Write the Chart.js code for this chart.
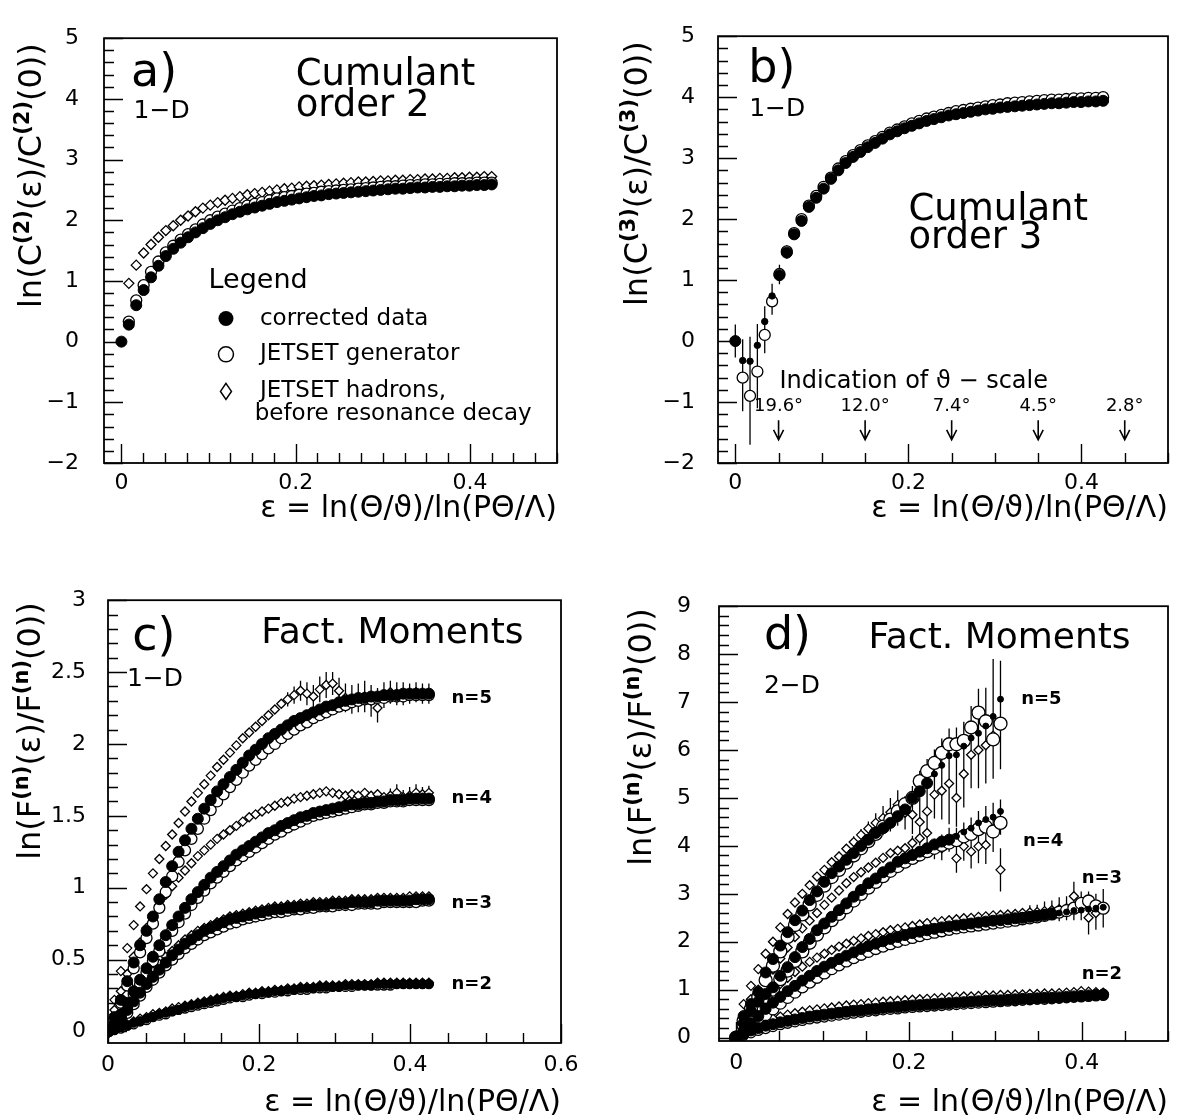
<!DOCTYPE html>
<html>
<head>
<meta charset="utf-8">
<script src="https://cdn.jsdelivr.net/npm/chart.js@4.4.0/dist/chart.umd.min.js"></script>
<style>
  body { margin: 0; background: #fff; overflow: hidden; }
  #wrap { position: relative; width: 1178px; height: 1118px; background: #fff; }
  canvas { position: absolute; }
</style>
</head>
<body>
<div id="wrap">
  <canvas id="chart_a" width="589" height="559" style="left:0;top:0"></canvas>
  <canvas id="chart_b" width="588" height="559" style="left:590px;top:0"></canvas>
  <canvas id="chart_c" width="589" height="553" style="left:0;top:565px"></canvas>
  <canvas id="chart_d" width="588" height="553" style="left:590px;top:565px"></canvas>
</div>
<script>
// ---------------- DATA ----------------
// epsilon bins (shared by all panels)
const eps = [0, 0.0085, 0.017, 0.0255, 0.034, 0.0425, 0.051, 0.0595, 0.068, 0.0765,
  0.085, 0.0935, 0.102, 0.1105, 0.119, 0.1275, 0.136, 0.1445, 0.153, 0.1615,
  0.17, 0.1785, 0.187, 0.1955, 0.204, 0.2125, 0.221, 0.2295, 0.238, 0.2465,
  0.255, 0.2635, 0.272, 0.2805, 0.289, 0.2975, 0.306, 0.3145, 0.323, 0.3315,
  0.34, 0.3485, 0.357, 0.3655, 0.374, 0.3825, 0.391, 0.3995, 0.408, 0.4165, 0.425];

// a) cumulant order 2, 1-D
const a_data = [0, 0.28, 0.6, 0.85, 1.06, 1.25, 1.41, 1.53, 1.63, 1.72,
  1.8, 1.87, 1.94, 2.0, 2.05, 2.1, 2.14, 2.18, 2.21, 2.24,
  2.27, 2.3, 2.32, 2.34, 2.36, 2.38, 2.4, 2.41, 2.43, 2.44,
  2.45, 2.46, 2.47, 2.48, 2.49, 2.5, 2.51, 2.52, 2.52, 2.53,
  2.54, 2.54, 2.55, 2.55, 2.56, 2.56, 2.57, 2.57, 2.58, 2.58, 2.59];
const a_jetset = [null, 0.33, 0.68, 0.93, 1.15, 1.32, 1.47, 1.58, 1.68, 1.77,
  1.85, 1.93, 2.0, 2.06, 2.11, 2.16, 2.2, 2.24, 2.27, 2.3,
  2.33, 2.36, 2.38, 2.4, 2.42, 2.44, 2.45, 2.47, 2.48, 2.49,
  2.5, 2.51, 2.52, 2.53, 2.54, 2.55, 2.56, 2.56, 2.57, 2.58,
  2.58, 2.59, 2.59, 2.6, 2.6, 2.61, 2.61, 2.61, 2.62, 2.62, 2.62];
const a_hadrons = [null, 0.96, 1.26, 1.46, 1.6, 1.72, 1.83, 1.91, 2.0, 2.07,
  2.14, 2.2, 2.25, 2.29, 2.33, 2.36, 2.39, 2.42, 2.44, 2.46,
  2.48, 2.5, 2.52, 2.53, 2.55, 2.56, 2.57, 2.58, 2.59, 2.6,
  2.61, 2.62, 2.63, 2.63, 2.64, 2.65, 2.65, 2.66, 2.66, 2.67,
  2.67, 2.68, 2.68, 2.69, 2.69, 2.7, 2.7, 2.71, 2.71, 2.72, 2.72];

// b) cumulant order 3, 1-D
const b_data = [0, -0.32, -0.33, -0.07, 0.32, 0.74, 1.08, 1.45, 1.75, 1.97,
  2.2, 2.35, 2.5, 2.66, 2.8, 2.92, 3.02, 3.1, 3.18, 3.25,
  3.32, 3.39, 3.44, 3.49, 3.53, 3.57, 3.61, 3.64, 3.67, 3.7,
  3.72, 3.74, 3.76, 3.78, 3.8, 3.81, 3.83, 3.84, 3.85, 3.86,
  3.87, 3.88, 3.89, 3.9, 3.9, 3.91, 3.92, 3.92, 3.93, 3.93, 3.94];
const b_jetset = [null, -0.6, -0.9, -0.5, 0.1, 0.65, 1.1, 1.47, 1.77, 2.0,
  2.22, 2.38, 2.53, 2.68, 2.83, 2.95, 3.05, 3.13, 3.21, 3.28,
  3.35, 3.42, 3.47, 3.52, 3.57, 3.61, 3.65, 3.68, 3.71, 3.74,
  3.77, 3.79, 3.81, 3.83, 3.85, 3.87, 3.88, 3.9, 3.91, 3.92,
  3.93, 3.94, 3.95, 3.96, 3.96, 3.97, 3.98, 3.98, 3.99, 3.99, 4.0];
const b_dataErr = [0.27, 0.35, 0.4, 0.35, 0.25, 0.2, 0.15, 0.1, 0.06];
const b_jetsetErr = [0, 0.55, 0.8, 0.6, 0.3, 0.22, 0.15, 0.1, 0.06];
const thetaEps = [0.05, 0.15, 0.25, 0.35, 0.45];
const thetaLabels = ['19.6\u00B0', '12.0\u00B0', '7.4\u00B0', '4.5\u00B0', '2.8\u00B0'];

// c) factorial moments, 1-D  (data / jetset / hadrons for n = 5..2)
const c_data5 = [0, 0.1, 0.22, 0.35, 0.48, 0.6, 0.7, 0.8, 0.92, 1.04,
  1.15, 1.25, 1.33, 1.41, 1.48, 1.55, 1.61, 1.67, 1.72, 1.77,
  1.82, 1.87, 1.92, 1.96, 2.0, 2.04, 2.07, 2.1, 2.13, 2.16,
  2.18, 2.2, 2.22, 2.24, 2.26, 2.27, 2.29, 2.3, 2.31, 2.32,
  2.32, 2.33, 2.33, 2.34, 2.34, 2.34, 2.35, 2.35, 2.35, 2.35, 2.35];
const c_jetset5 = [0, 0.08, 0.2, 0.32, 0.44, 0.55, 0.65, 0.75, 0.86, 0.97,
  1.08, 1.18, 1.26, 1.34, 1.41, 1.48, 1.54, 1.6, 1.65, 1.7,
  1.75, 1.8, 1.85, 1.89, 1.93, 1.97, 2.0, 2.04, 2.07, 2.1,
  2.13, 2.15, 2.18, 2.2, 2.22, 2.24, 2.26, 2.27, 2.29, 2.3,
  2.31, 2.31, 2.32, 2.32, 2.33, 2.33, 2.33, 2.34, 2.34, 2.34, 2.34];
const c_hadrons5 = [0, 0.22, 0.42, 0.58, 0.74, 0.87, 0.99, 1.1, 1.2, 1.29,
  1.37, 1.45, 1.53, 1.6, 1.66, 1.72, 1.78, 1.84, 1.89, 1.94,
  1.99, 2.04, 2.08, 2.12, 2.16, 2.2, 2.24, 2.28, 2.31, 2.34,
  2.37, 2.35, 2.33, 2.38, 2.41, 2.42, 2.37, 2.32, 2.31, 2.32,
  2.33, 2.3, 2.25, 2.34, 2.36, 2.35, 2.35, 2.35, 2.36, 2.35, 2.35];
const c_data4 = [0, 0.05, 0.12, 0.2, 0.28, 0.36, 0.44, 0.52, 0.6, 0.67,
  0.74, 0.8, 0.86, 0.92, 0.97, 1.02, 1.07, 1.11, 1.15, 1.19,
  1.23, 1.26, 1.29, 1.32, 1.35, 1.38, 1.4, 1.43, 1.45, 1.47,
  1.49, 1.5, 1.52, 1.53, 1.54, 1.55, 1.56, 1.57, 1.58, 1.58,
  1.59, 1.59, 1.6, 1.6, 1.61, 1.61, 1.61, 1.62, 1.62, 1.62, 1.62];
const c_jetset4 = [0, 0.04, 0.1, 0.18, 0.26, 0.33, 0.41, 0.49, 0.56, 0.63,
  0.7, 0.76, 0.82, 0.88, 0.93, 0.98, 1.03, 1.07, 1.11, 1.15,
  1.19, 1.22, 1.25, 1.28, 1.31, 1.34, 1.37, 1.39, 1.42, 1.44,
  1.46, 1.48, 1.5, 1.51, 1.52, 1.53, 1.54, 1.55, 1.56, 1.57,
  1.58, 1.58, 1.59, 1.59, 1.6, 1.6, 1.6, 1.61, 1.61, 1.61, 1.61];
const c_hadrons4 = [0, 0.15, 0.28, 0.4, 0.52, 0.62, 0.72, 0.8, 0.88, 0.95,
  1.01, 1.07, 1.12, 1.17, 1.22, 1.26, 1.3, 1.34, 1.37, 1.4,
  1.43, 1.46, 1.49, 1.51, 1.53, 1.55, 1.57, 1.59, 1.6, 1.62,
  1.63, 1.64, 1.65, 1.66, 1.67, 1.66, 1.65, 1.64, 1.65, 1.64,
  1.66, 1.64, 1.65, 1.63, 1.64, 1.66, 1.63, 1.64, 1.66, 1.65, 1.66];
const c_data3 = [0, 0.04, 0.09, 0.15, 0.21, 0.27, 0.33, 0.38, 0.43, 0.48,
  0.53, 0.57, 0.61, 0.64, 0.67, 0.7, 0.72, 0.74, 0.76, 0.78,
  0.79, 0.8, 0.81, 0.82, 0.83, 0.84, 0.85, 0.85, 0.86, 0.86,
  0.87, 0.87, 0.88, 0.88, 0.88, 0.89, 0.89, 0.89, 0.9, 0.9,
  0.9, 0.9, 0.91, 0.91, 0.91, 0.91, 0.91, 0.91, 0.92, 0.92, 0.92];
const c_jetset3 = [0, 0.03, 0.08, 0.13, 0.19, 0.25, 0.31, 0.36, 0.41, 0.46,
  0.5, 0.54, 0.58, 0.61, 0.64, 0.67, 0.69, 0.71, 0.73, 0.75,
  0.76, 0.78, 0.79, 0.8, 0.81, 0.82, 0.83, 0.83, 0.84, 0.85,
  0.85, 0.86, 0.86, 0.87, 0.87, 0.87, 0.88, 0.88, 0.88, 0.89,
  0.89, 0.89, 0.89, 0.9, 0.9, 0.9, 0.9, 0.9, 0.9, 0.91, 0.91];
const c_hadrons3 = [0, 0.06, 0.12, 0.18, 0.25, 0.31, 0.37, 0.42, 0.47, 0.52,
  0.56, 0.6, 0.64, 0.67, 0.7, 0.72, 0.74, 0.76, 0.78, 0.8,
  0.81, 0.82, 0.83, 0.84, 0.85, 0.86, 0.87, 0.87, 0.88, 0.88,
  0.89, 0.89, 0.9, 0.9, 0.9, 0.91, 0.91, 0.91, 0.92, 0.92,
  0.92, 0.92, 0.93, 0.93, 0.93, 0.93, 0.93, 0.94, 0.94, 0.94, 0.94];
const c_data2 = [0, 0.01, 0.03, 0.04, 0.06, 0.07, 0.09, 0.1, 0.12, 0.13,
  0.14, 0.15, 0.17, 0.18, 0.19, 0.2, 0.21, 0.22, 0.23, 0.24,
  0.24, 0.25, 0.26, 0.26, 0.27, 0.27, 0.28, 0.28, 0.29, 0.29,
  0.3, 0.3, 0.3, 0.31, 0.31, 0.31, 0.31, 0.32, 0.32, 0.32,
  0.32, 0.32, 0.33, 0.33, 0.33, 0.33, 0.33, 0.33, 0.33, 0.33, 0.33];
const c_jetset2 = [0, 0.01, 0.02, 0.04, 0.05, 0.07, 0.08, 0.1, 0.11, 0.12,
  0.14, 0.15, 0.16, 0.17, 0.18, 0.19, 0.2, 0.21, 0.22, 0.23,
  0.24, 0.24, 0.25, 0.26, 0.26, 0.27, 0.27, 0.28, 0.28, 0.29,
  0.29, 0.29, 0.3, 0.3, 0.3, 0.31, 0.31, 0.31, 0.31, 0.32,
  0.32, 0.32, 0.32, 0.32, 0.32, 0.33, 0.33, 0.33, 0.33, 0.33, 0.33];
const c_hadrons2 = [0, 0.02, 0.04, 0.05, 0.07, 0.09, 0.1, 0.12, 0.13, 0.14,
  0.16, 0.17, 0.18, 0.19, 0.2, 0.21, 0.22, 0.23, 0.24, 0.25,
  0.25, 0.26, 0.27, 0.27, 0.28, 0.28, 0.29, 0.29, 0.3, 0.3,
  0.31, 0.31, 0.31, 0.32, 0.32, 0.32, 0.32, 0.33, 0.33, 0.33,
  0.33, 0.33, 0.34, 0.34, 0.34, 0.34, 0.34, 0.34, 0.34, 0.34, 0.34];
const c_hadrons5Err = [0, 0, 0, 0, 0, 0, 0, 0, 0, 0, 0, 0, 0, 0, 0, 0, 0, 0, 0, 0,
  0, 0, 0, 0, 0, 0, 0, 0, 0.05, 0.06, 0.07, 0.08, 0.08, 0.09, 0.09, 0.08, 0.09, 0.1, 0.1, 0.1,
  0.11, 0.11, 0.1, 0.09, 0.08, 0.08, 0.08, 0.07, 0.07, 0.07, 0.07];
const c_data5Err = [0, 0, 0, 0, 0, 0, 0, 0, 0, 0, 0, 0, 0, 0, 0, 0, 0, 0, 0, 0,
  0, 0, 0, 0, 0, 0, 0, 0, 0, 0, 0, 0, 0, 0, 0, 0, 0, 0, 0.04, 0.05,
  0.05, 0.05, 0.06, 0.06, 0.06, 0.06, 0.05, 0.05, 0.05, 0.05, 0.05];
const c_hadrons4Err = [0, 0, 0, 0, 0, 0, 0, 0, 0, 0, 0, 0, 0, 0, 0, 0, 0, 0, 0, 0,
  0, 0, 0, 0, 0, 0, 0, 0, 0, 0, 0, 0, 0, 0, 0, 0, 0, 0, 0, 0,
  0, 0, 0, 0, 0.05, 0.06, 0.05, 0.06, 0.06, 0.05, 0.05];

// d) factorial moments, 2-D
const d_data5 = [0, 0.45, 0.7, 0.95, 1.36, 1.64, 1.92, 2.2, 2.45, 2.65,
  2.87, 3.05, 3.25, 3.43, 3.57, 3.71, 3.85, 4.0, 4.13, 4.27,
  4.37, 4.48, 4.62, 4.76, 5.0, 5.14, 5.31, 5.5, 5.68, 5.88,
  5.9, 6.08, 6.25, 6.35, 6.5, 6.7, 7.06];
const d_jetset5 = [0, 0.35, 0.6, 0.85, 1.2, 1.5, 1.8, 2.1, 2.35, 2.57,
  2.78, 2.98, 3.17, 3.35, 3.5, 3.65, 3.8, 3.95, 4.1, 4.25,
  4.4, 4.55, 4.72, 4.87, 5.0, 5.35, 5.56, 5.73, 5.94, 6.12,
  6.12, 6.19, 6.47, 6.78, 6.6, 6.22, 6.55];
const d_hadrons5 = [0, 0.7, 1.08, 1.43, 1.75, 2.0, 2.3, 2.58, 2.82, 3.0,
  3.18, 3.36, 3.5, 3.66, 3.78, 3.94, 4.08, 4.23, 4.36, 4.48,
  4.58, 4.7, 4.86, 4.69, 4.65, 4.5, 4.72, 5.07, 5.15, 5.3,
  5.0, 5.5, 5.9, 6.0, 6.1, 6.3, 6.5];
const d_data5Err = [0, 0, 0, 0, 0, 0, 0, 0, 0, 0, 0, 0, 0, 0,
  0.08, 0.1, 0.1, 0.12, 0.12, 0.15, 0.15, 0.18, 0.2, 0.2, 0.25, 0.25, 0.3, 0.3,
  0.35, 0.4, 0.45, 0.5, 0.6, 0.75, 0.8, 1.2, 0.8];
const d_jetset5Err = [0, 0, 0, 0, 0, 0, 0, 0, 0, 0, 0, 0, 0, 0,
  0.05, 0.06, 0.07, 0.08, 0.09, 0.1, 0.12, 0.14, 0.15, 0.17, 0.2, 0.22, 0.25, 0.28,
  0.3, 0.33, 0.35, 0.4, 0.45, 0.5, 0.55, 0.6, 0.6];
const d_hadrons5Err = [0, 0, 0, 0, 0, 0, 0, 0, 0, 0, 0, 0, 0, 0,
  0.1, 0.1, 0.12, 0.12, 0.15, 0.2, 0.25, 0.3, 0.3, 0.35, 0.4, 0.4, 0.5, 0.5,
  0.6, 0.85, 0.6, 0.7, 0.7, 0.8, 0.8, 0.9, 0.9];
const d_data4 = [0, 0.3, 0.55, 0.75, 0.91, 1.05, 1.29, 1.47, 1.68, 1.89,
  2.06, 2.24, 2.38, 2.52, 2.66, 2.8, 2.94, 3.08, 3.22, 3.32,
  3.45, 3.55, 3.67, 3.74, 3.81, 3.88, 3.95, 4.03, 4.09, 4.13,
  4.2, 4.29, 4.37, 4.48, 4.55, 4.6, 4.72];
const d_jetset4 = [0, 0.25, 0.48, 0.68, 0.85, 1.0, 1.22, 1.4, 1.6, 1.8,
  1.98, 2.15, 2.3, 2.45, 2.58, 2.72, 2.86, 3.0, 3.13, 3.25,
  3.37, 3.48, 3.58, 3.67, 3.75, 3.82, 3.89, 3.96, 4.02, 4.07,
  4.12, 4.2, 4.25, 4.35, 4.4, 4.3, 4.48];
const d_hadrons4 = [0, 0.45, 0.8, 1.0, 1.22, 1.42, 1.65, 1.88, 2.1, 2.28,
  2.44, 2.6, 2.77, 2.92, 3.07, 3.22, 3.35, 3.45, 3.55, 3.65,
  3.75, 3.85, 3.9, 3.95, 4.06, 4.16, 4.27, 3.92, 3.95, 4.13,
  3.74, 3.99, 3.88, 3.99, 4.02, 4.27, 3.5];
const d_data4Err = [0, 0, 0, 0, 0, 0, 0, 0, 0, 0, 0, 0, 0, 0, 0, 0, 0, 0, 0, 0, 0, 0, 0, 0,
  0.1, 0.1, 0.12, 0.12, 0.15, 0.15, 0.18, 0.2, 0.22, 0.25, 0.28, 0.3, 0.25];
const d_jetset4Err = [0, 0, 0, 0, 0, 0, 0, 0, 0, 0, 0, 0, 0, 0, 0, 0, 0, 0, 0, 0, 0, 0, 0, 0,
  0.08, 0.08, 0.1, 0.1, 0.12, 0.12, 0.15, 0.15, 0.18, 0.2, 0.22, 0.25, 0.25];
const d_hadrons4Err = [0, 0, 0, 0, 0, 0, 0, 0, 0, 0, 0, 0, 0, 0, 0, 0, 0, 0, 0, 0, 0, 0, 0, 0,
  0.15, 0.15, 0.2, 0.2, 0.25, 0.25, 0.3, 0.3, 0.35, 0.35, 0.4, 0.4, 0.45];
const d_data3 = [0, 0.15, 0.3, 0.45, 0.6, 0.73, 0.85, 0.97, 1.08, 1.19,
  1.29, 1.39, 1.48, 1.56, 1.64, 1.71, 1.78, 1.85, 1.91, 1.96,
  2.01, 2.06, 2.1, 2.14, 2.18, 2.21, 2.24, 2.27, 2.3, 2.32,
  2.34, 2.36, 2.38, 2.4, 2.42, 2.44, 2.45, 2.47, 2.49, 2.5,
  2.52, 2.54, 2.56, 2.58, 2.6, 2.62, 2.65, 2.66, 2.68, 2.7, 2.72];
const d_jetset3 = [0, 0.1, 0.22, 0.35, 0.48, 0.6, 0.72, 0.84, 0.95, 1.06,
  1.16, 1.26, 1.35, 1.44, 1.52, 1.6, 1.67, 1.74, 1.8, 1.86,
  1.91, 1.96, 2.01, 2.05, 2.09, 2.13, 2.17, 2.2, 2.23, 2.26,
  2.29, 2.31, 2.33, 2.35, 2.37, 2.39, 2.41, 2.43, 2.45, 2.48,
  2.5, 2.52, 2.55, 2.58, 2.62, 2.65, 2.7, 2.8, 2.85, 2.75, 2.7];
const d_hadrons3 = [0, 0.25, 0.45, 0.65, 0.82, 0.98, 1.12, 1.25, 1.37, 1.48,
  1.58, 1.67, 1.75, 1.83, 1.9, 1.96, 2.02, 2.07, 2.12, 2.16,
  2.2, 2.24, 2.27, 2.3, 2.33, 2.36, 2.39, 2.41, 2.43, 2.45,
  2.47, 2.49, 2.5, 2.52, 2.53, 2.55, 2.56, 2.57, 2.58, 2.6,
  2.61, 2.62, 2.64, 2.66, 2.68, 2.7, 2.95, 2.75, 2.5, 2.6, 2.7];
const d_data3Err = [0, 0, 0, 0, 0, 0, 0, 0, 0, 0, 0, 0, 0, 0, 0, 0, 0, 0, 0, 0,
  0, 0, 0, 0, 0, 0, 0, 0, 0, 0, 0, 0, 0, 0, 0, 0, 0, 0, 0, 0,
  0.1, 0.1, 0.12, 0.12, 0.15, 0.15, 0.2, 0.2, 0.25, 0.3, 0.35];
const d_jetset3Err = [0, 0, 0, 0, 0, 0, 0, 0, 0, 0, 0, 0, 0, 0, 0, 0, 0, 0, 0, 0,
  0, 0, 0, 0, 0, 0, 0, 0, 0, 0, 0, 0, 0, 0, 0, 0, 0, 0, 0, 0,
  0.08, 0.08, 0.1, 0.1, 0.12, 0.12, 0.15, 0.2, 0.2, 0.25, 0.25];
const d_hadrons3Err = [0, 0, 0, 0, 0, 0, 0, 0, 0, 0, 0, 0, 0, 0, 0, 0, 0, 0, 0, 0,
  0, 0, 0, 0, 0, 0, 0, 0, 0, 0, 0, 0, 0, 0, 0, 0, 0, 0, 0, 0,
  0.15, 0.15, 0.2, 0.2, 0.25, 0.25, 0.3, 0.3, 0.35, 0.35, 0.4];
const d_data2 = [0, 0.08, 0.15, 0.2, 0.25, 0.28, 0.32, 0.35, 0.38, 0.41,
  0.44, 0.46, 0.48, 0.5, 0.52, 0.54, 0.56, 0.57, 0.59, 0.6,
  0.62, 0.63, 0.64, 0.66, 0.67, 0.68, 0.69, 0.7, 0.71, 0.72,
  0.73, 0.74, 0.75, 0.76, 0.77, 0.78, 0.78, 0.79, 0.8, 0.81,
  0.81, 0.82, 0.83, 0.83, 0.84, 0.85, 0.86, 0.87, 0.88, 0.89, 0.9];
const d_jetset2 = [0, 0.05, 0.1, 0.15, 0.19, 0.23, 0.27, 0.3, 0.33, 0.36,
  0.39, 0.41, 0.43, 0.45, 0.47, 0.49, 0.51, 0.53, 0.55, 0.56,
  0.58, 0.59, 0.6, 0.62, 0.63, 0.64, 0.65, 0.66, 0.67, 0.68,
  0.69, 0.7, 0.71, 0.72, 0.73, 0.74, 0.75, 0.76, 0.77, 0.78,
  0.79, 0.8, 0.8, 0.81, 0.82, 0.83, 0.84, 0.85, 0.86, 0.87, 0.88];
const d_hadrons2 = [0, 0.15, 0.24, 0.3, 0.36, 0.4, 0.44, 0.48, 0.51, 0.54,
  0.57, 0.59, 0.61, 0.63, 0.65, 0.67, 0.69, 0.7, 0.72, 0.73,
  0.75, 0.76, 0.77, 0.78, 0.79, 0.8, 0.81, 0.82, 0.83, 0.84,
  0.85, 0.86, 0.86, 0.87, 0.88, 0.88, 0.89, 0.89, 0.9, 0.9,
  0.91, 0.91, 0.92, 0.92, 0.93, 0.94, 0.95, 0.97, 0.96, 0.95, 0.94];

// labels
const legendLabels = ['corrected data', 'JETSET generator', 'JETSET hadrons,', 'before resonance decay'];
const orderLabels = ['n=5', 'n=4', 'n=3', 'n=2'];
const xTitle = '\u03B5 = ln(\u0398/\u03D1)/ln(P\u0398/\u039B)';
// y titles: [text, isSuperscript]
const yTitleC2 = [['ln(C', 0], ['(2)', 1], ['(\u03B5)/C', 0], ['(2)', 1], ['(0))', 0]];
const yTitleC3 = [['ln(C', 0], ['(3)', 1], ['(\u03B5)/C', 0], ['(3)', 1], ['(0))', 0]];
const yTitleF = [['ln(F', 0], ['(n)', 1], ['(\u03B5)/F', 0], ['(n)', 1], ['(0))', 0]];

// ---------------- HELPERS ----------------
const FONT = "'DejaVu Sans', 'Liberation Sans', sans-serif";

function pts(values, errs) {
  const out = [];
  values.forEach((v, i) => {
    if (v === null || v === undefined) return;
    out.push({ x: eps[i], y: v, e: errs ? (errs[i] || 0) : 0 });
  });
  return out;
}

function filledSet(values, errs, radius, smallFrom) {
  const r = radius || 5.5;
  return {
    data: pts(values, errs),
    pointStyle: 'circle',
    pointRadius: smallFrom ? (c => (c.dataIndex >= smallFrom ? 3 : r)) : r,
    backgroundColor: '#000', borderColor: '#000', borderWidth: 1
  };
}
function openSet(values, errs, radius) {
  return {
    data: pts(values, errs),
    pointStyle: 'circle', pointRadius: radius || 5.5,
    backgroundColor: '#fff', borderColor: '#000', borderWidth: 1.3
  };
}
function diamondSet(values, errs, radius) {
  return {
    data: pts(values, errs),
    pointStyle: 'rectRot', pointRadius: radius || 5,
    backgroundColor: '#fff', borderColor: '#000', borderWidth: 1.3
  };
}

function fmt(v) {
  return String(Math.round(v * 10) / 10).replace('-', '\u2212');
}

function tickLoop(min, max, step, fn) {
  const n0 = Math.ceil(min / step - 1e-6), n1 = Math.floor(max / step + 1e-6);
  for (let k = n0; k <= n1; k++) fn(k * step);
}
function isMajor(v, major) {
  return Math.abs(v / major - Math.round(v / major)) < 1e-6;
}

// box + PAW-like inner tick marks
const framePlugin = {
  id: 'frame',
  afterDatasetsDraw(chart, args, o) {
    const { ctx, chartArea: a, scales: { x, y } } = chart;
    ctx.save();
    ctx.strokeStyle = '#000';
    ctx.lineWidth = 1.4;
    ctx.beginPath();
    tickLoop(x.min, x.max, o.xMinor, v => {
      const px = Math.round(x.getPixelForValue(v)) + 0.5;
      const len = isMajor(v, o.xMajor) ? 19 : 10;
      ctx.moveTo(px, a.bottom);
      ctx.lineTo(px, a.bottom - len);
    });
    tickLoop(y.min, y.max, o.yMinor, v => {
      const py = Math.round(y.getPixelForValue(v)) + 0.5;
      const len = isMajor(v, o.yMajor) ? 19 : 10;
      ctx.moveTo(a.left, py);
      ctx.lineTo(a.left + len, py);
    });
    ctx.stroke();
    ctx.lineWidth = 1.8;
    ctx.strokeRect(a.left, a.top, a.right - a.left, a.bottom - a.top);
    ctx.restore();
  }
};

// vertical error bars from the e field of each point
const errorBarPlugin = {
  id: 'errorBars',
  beforeDatasetsDraw(chart) {
    const { ctx, scales: { x, y } } = chart;
    ctx.save();
    ctx.strokeStyle = '#000';
    ctx.lineWidth = 1.3;
    ctx.beginPath();
    chart.data.datasets.forEach(ds => {
      ds.data.forEach(p => {
        if (!p.e) return;
        const px = x.getPixelForValue(p.x);
        ctx.moveTo(px, y.getPixelForValue(p.y - p.e));
        ctx.lineTo(px, y.getPixelForValue(p.y + p.e));
      });
    });
    ctx.stroke();
    ctx.restore();
  }
};

// free text inside the frames
const textPlugin = {
  id: 'panelText',
  afterDraw(chart, args, o) {
    const { ctx, scales: { x, y } } = chart;
    ctx.save();
    ctx.fillStyle = '#000';
    ctx.textBaseline = 'middle';
    (o.items || []).forEach(t => {
      ctx.font = (t.weight || 'normal') + ' ' + t.size + 'px ' + FONT;
      ctx.textAlign = t.align || 'left';
      ctx.fillText(t.text, x.getPixelForValue(t.x), y.getPixelForValue(t.y));
    });
    ctx.restore();
  }
};

// rotated y title with real superscripts
const yTitlePlugin = {
  id: 'yTitle',
  afterDraw(chart, args, o) {
    if (!o.parts) return;
    const { ctx, chartArea: a } = chart;
    const mainFont = o.size + 'px ' + FONT;
    const supFont = 'bold ' + o.supSize + 'px ' + FONT;
    ctx.save();
    ctx.fillStyle = '#000';
    ctx.textAlign = 'left';
    ctx.textBaseline = 'alphabetic';
    let w = 0;
    o.parts.forEach(p => { ctx.font = p[1] ? supFont : mainFont; w += ctx.measureText(p[0]).width; });
    ctx.translate(o.cx, a.top + o.topGap);
    ctx.rotate(-Math.PI / 2);
    let tx = -w;
    const base = o.size * 0.36;
    o.parts.forEach(p => {
      ctx.font = p[1] ? supFont : mainFont;
      ctx.fillText(p[0], tx, p[1] ? base - o.size * 0.36 : base);
      tx += ctx.measureText(p[0]).width;
    });
    ctx.restore();
  }
};

// legend of panel a
const legendPlugin = {
  id: 'paLegend',
  afterDraw(chart, args, o) {
    if (!o.rows) return;
    const { ctx, scales: { x, y } } = chart;
    ctx.save();
    ctx.fillStyle = '#000';
    ctx.strokeStyle = '#000';
    ctx.textBaseline = 'middle';
    ctx.font = o.size + 'px ' + FONT;
    const mx = x.getPixelForValue(o.markerX);
    const tx = x.getPixelForValue(o.textX);
    o.rows.forEach((ry, i) => {
      const my = y.getPixelForValue(ry);
      ctx.lineWidth = 1.5;
      ctx.beginPath();
      if (i === 2) {
        ctx.moveTo(mx, my - 8); ctx.lineTo(mx + 5.5, my);
        ctx.lineTo(mx, my + 8); ctx.lineTo(mx - 5.5, my); ctx.closePath();
        ctx.stroke();
      } else {
        ctx.arc(mx, my, 7.5, 0, Math.PI * 2);
        if (i === 0) ctx.fill(); else ctx.stroke();
      }
      ctx.fillText(legendLabels[i], tx, my);
    });
    ctx.fillText(legendLabels[3], x.getPixelForValue(o.extraX), y.getPixelForValue(o.extraY));
    ctx.restore();
  }
};

// theta-scale arrows of panel b
const arrowPlugin = {
  id: 'thetaArrows',
  afterDraw(chart, args, o) {
    if (!o.show) return;
    const { ctx, scales: { x, y } } = chart;
    ctx.save();
    ctx.fillStyle = '#000';
    ctx.strokeStyle = '#000';
    ctx.lineWidth = 1.6;
    ctx.textAlign = 'center';
    ctx.textBaseline = 'middle';
    ctx.font = '18px ' + FONT;
    thetaEps.forEach((v, i) => {
      const px = x.getPixelForValue(v);
      const y0 = y.getPixelForValue(o.top), y1 = y.getPixelForValue(o.bottom);
      ctx.beginPath();
      ctx.moveTo(px, y0); ctx.lineTo(px, y1);
      ctx.moveTo(px - 5, y1 - 10); ctx.lineTo(px, y1); ctx.lineTo(px + 5, y1 - 10);
      ctx.stroke();
      ctx.fillText(thetaLabels[i], px, y.getPixelForValue(o.labelY));
    });
    ctx.restore();
  }
};

function makeScales(p) {
  return {
    x: {
      type: 'linear', min: p.xMin, max: p.xMax,
      afterBuildTicks: s => { s.ticks = p.xTicks.map(v => ({ value: v })); },
      afterFit: s => { s.height = p.xHeight; },
      grid: { display: false, drawTicks: false },
      border: { display: false },
      ticks: { padding: p.xTickPad, color: '#000', autoSkip: false, maxRotation: 0,
        font: { family: FONT, size: 22 }, callback: fmt },
      title: { display: true, text: xTitle, align: 'end', color: '#000',
        font: { family: FONT, size: 30, lineHeight: 1 }, padding: { top: 0, bottom: p.xTitlePad } }
    },
    y: {
      type: 'linear', min: p.yMin, max: p.yMax,
      afterBuildTicks: s => { s.ticks = p.yTicks.map(v => ({ value: v })); },
      afterFit: s => { s.width = p.yWidth; },
      grid: { display: false, drawTicks: false },
      border: { display: false },
      ticks: { padding: p.yTickPad, color: '#000', autoSkip: false,
        font: { family: FONT, size: 22 }, callback: fmt },
      title: { display: false }
    }
  };
}

function makeChart(id, datasets, layoutPad, scaleOpts, pluginOpts) {
  return new Chart(document.getElementById(id), {
    type: 'scatter',
    data: { datasets: datasets },
    options: {
      responsive: false,
      animation: false,
      events: [],
      layout: { padding: layoutPad },
      plugins: Object.assign({ legend: { display: false }, tooltip: { enabled: false } }, pluginOpts),
      scales: makeScales(scaleOpts)
    },
    plugins: [errorBarPlugin, framePlugin, textPlugin, yTitlePlugin, legendPlugin, arrowPlugin]
  });
}

// ---------------- PANEL a ----------------
makeChart('chart_a',
  [filledSet(a_data), openSet(a_jetset), diamondSet(a_hadrons)],
  { top: 16, right: 32, left: 0, bottom: 0 },
  { xMin: -0.02, xMax: 0.5, xTicks: [0, 0.2, 0.4], xHeight: 96, xTickPad: 7, xTitlePad: 35,
    yMin: -2, yMax: 5, yTicks: [-2, -1, 0, 1, 2, 3, 4, 5], yWidth: 104, yTickPad: 25 },
  {
    frame: { xMinor: 0.025, xMajor: 0.2, yMinor: 0.2, yMajor: 1 },
    yTitle: { parts: yTitleC2, cx: 29, topGap: 5, size: 32, supSize: 21 },
    panelText: { items: [
      { text: 'a)', x: 0.011, y: 4.41, size: 46 },
      { text: '1\u2212D', x: 0.014, y: 3.8, size: 25 },
      { text: 'Cumulant', x: 0.2, y: 4.39, size: 37 },
      { text: 'order 2', x: 0.2, y: 3.87, size: 37 },
      { text: 'Legend', x: 0.1, y: 1.0, size: 27 }
    ] },
    paLegend: { markerX: 0.12, textX: 0.159, rows: [0.38, -0.21, -0.82], extraX: 0.153, extraY: -1.2, size: 23 }
  });

// ---------------- PANEL b ----------------
const bFilled = filledSet(b_data, b_dataErr);
bFilled.pointRadius = c => (c.dataIndex >= 1 && c.dataIndex <= 5 ? 3.2 : 5.5);
makeChart('chart_b',
  [bFilled, openSet(b_jetset, b_jetsetErr)],
  { top: 15, right: 10, left: 0, bottom: 0 },
  { xMin: -0.02, xMax: 0.5, xTicks: [0, 0.2, 0.4], xHeight: 96, xTickPad: 7, xTitlePad: 35,
    yMin: -2, yMax: 5, yTicks: [-2, -1, 0, 1, 2, 3, 4, 5], yWidth: 128, yTickPad: 23 },
  {
    frame: { xMinor: 0.05, xMajor: 0.2, yMinor: 0.2, yMajor: 1 },
    yTitle: { parts: yTitleC3, cx: 45, topGap: 5, size: 32, supSize: 21 },
    panelText: { items: [
      { text: 'b)', x: 0.015, y: 4.45, size: 46 },
      { text: '1\u2212D', x: 0.016, y: 3.8, size: 25 },
      { text: 'Cumulant', x: 0.2, y: 2.14, size: 37 },
      { text: 'order 3', x: 0.2, y: 1.68, size: 37 },
      { text: 'Indication of \u03D1 \u2212 scale', x: 0.051, y: -0.66, size: 24 }
    ] },
    thetaArrows: { show: true, top: -1.3, bottom: -1.62, labelY: -1.07 }
  });

// ---------------- PANEL c ----------------
makeChart('chart_c',
  [filledSet(c_data5, c_data5Err), filledSet(c_data4), filledSet(c_data3), filledSet(c_data2, null, 4.5),
   openSet(c_jetset5), openSet(c_jetset4), openSet(c_jetset3), openSet(c_jetset2, null, 4.5),
   diamondSet(c_hadrons5, c_hadrons5Err, 4.5), diamondSet(c_hadrons4, c_hadrons4Err, 4.5),
   diamondSet(c_hadrons3, null, 4.5), diamondSet(c_hadrons2, null, 4.5)],
  { top: 22, right: 28, left: 0, bottom: 0 },
  { xMin: 0, xMax: 0.6, xTicks: [0, 0.2, 0.4, 0.6], xHeight: 75, xTickPad: 9, xTitlePad: 0,
    yMin: -0.08, yMax: 3, yTicks: [0, 0.5, 1, 1.5, 2, 2.5, 3], yWidth: 108, yTickPad: 22 },
  {
    frame: { xMinor: 0.05, xMajor: 0.2, yMinor: 0.1, yMajor: 0.5 },
    yTitle: { parts: yTitleF, cx: 28, topGap: 2, size: 32, supSize: 21 },
    panelText: { items: [
      { text: 'c)', x: 0.032, y: 2.74, size: 46 },
      { text: 'Fact. Moments', x: 0.203, y: 2.77, size: 36 },
      { text: '1\u2212D', x: 0.025, y: 2.45, size: 25 },
      { text: orderLabels[0], x: 0.455, y: 2.32, size: 18, weight: 'bold' },
      { text: orderLabels[1], x: 0.455, y: 1.62, size: 18, weight: 'bold' },
      { text: orderLabels[2], x: 0.455, y: 0.89, size: 18, weight: 'bold' },
      { text: orderLabels[3], x: 0.455, y: 0.33, size: 18, weight: 'bold' }
    ] }
  });

// ---------------- PANEL d ----------------
makeChart('chart_d',
  [filledSet(d_data5, d_data5Err, 5.5, 27), filledSet(d_data4, d_data4Err, 5.5, 30),
   filledSet(d_data3, d_data3Err, 5.5, 44), filledSet(d_data2),
   openSet(d_jetset5, d_jetset5Err, 6.5), openSet(d_jetset4, d_jetset4Err, 6.5),
   openSet(d_jetset3, d_jetset3Err, 6), openSet(d_jetset2, null, 5),
   diamondSet(d_hadrons5, d_hadrons5Err, 4.5), diamondSet(d_hadrons4, d_hadrons4Err, 4.5),
   diamondSet(d_hadrons3, d_hadrons3Err, 4.5), diamondSet(d_hadrons2, null, 4.5)],
  { top: 22, right: 10, left: 0, bottom: 0 },
  { xMin: -0.02, xMax: 0.5, xTicks: [0, 0.2, 0.4], xHeight: 77, xTickPad: 9, xTitlePad: 0,
    yMin: -0.07, yMax: 9, yTicks: [0, 1, 2, 3, 4, 5, 6, 7, 8, 9], yWidth: 129, yTickPad: 28 },
  {
    frame: { xMinor: 0.05, xMajor: 0.2, yMinor: 0.2, yMajor: 1 },
    yTitle: { parts: yTitleF, cx: 49, topGap: 2, size: 32, supSize: 21 },
    panelText: { items: [
      { text: 'd)', x: 0.032, y: 8.35, size: 46 },
      { text: 'Fact. Moments', x: 0.153, y: 8.33, size: 36 },
      { text: '2\u2212D', x: 0.032, y: 7.32, size: 25 },
      { text: orderLabels[0], x: 0.33, y: 7.06, size: 18, weight: 'bold' },
      { text: orderLabels[1], x: 0.332, y: 4.09, size: 18, weight: 'bold' },
      { text: orderLabels[2], x: 0.4, y: 3.32, size: 18, weight: 'bold' },
      { text: orderLabels[3], x: 0.4, y: 1.33, size: 18, weight: 'bold' }
    ] }
  });
</script>
</body>
</html>
